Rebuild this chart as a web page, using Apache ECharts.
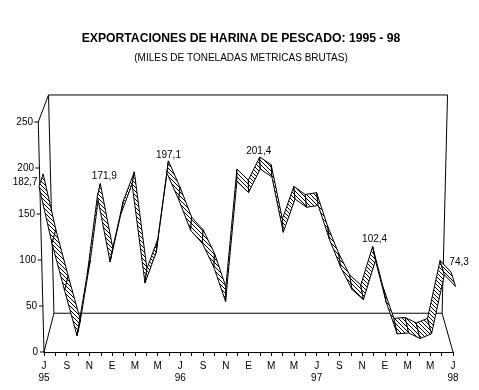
<!DOCTYPE html>
<html>
<head>
<meta charset="utf-8">
<title>Exportaciones de harina de pescado</title>
<script src="https://cdn.jsdelivr.net/npm/echarts@6/dist/echarts.min.js"></script>
<style>
  html, body { margin: 0; padding: 0; background: #fff; }
  #chart { width: 479px; height: 390px; }
</style>
</head>
<body>
<div id="chart"></div>
<script>
// datos, julio 95 a julio 98
const months = ['J', 'A', 'S', 'O', 'N', 'D', 'E', 'F', 'M', 'A', 'M', 'J',
                'J', 'A', 'S', 'O', 'N', 'D', 'E', 'F', 'M', 'A', 'M', 'J',
                'J', 'A', 'S', 'O', 'N', 'D', 'E', 'F', 'M', 'A', 'M', 'J', 'J']
const years = { 0: '95', 12: '96', 24: '97', 36: '98' }
const exportsValues = [182.7, 121, 70, 21, 88, 171.9, 101, 153, 185, 78, 111, 197.1,
                       168, 135, 121, 95, 58, 188, 176, 201.4, 193, 133, 169, 160,
                       162, 125, 95, 71, 60, 102.4, 57, 23, 24, 18, 23, 87, 74.3]
const yTicks = [0, 50, 100, 150, 200, 250]
const labelledMonths = [0, 5, 11, 19, 29, 36]
const labelTexts = ['182,7', '171,9', '197,1', '201,4', '102,4', '74,3']

// desplazamiento de cada rotulo respecto al pico del grafico
const labelOffsets = [[-18, 8], [4, -7], [0, -6], [-1, -6], [2, -7], [8, -10]]

const FONT = '"Liberation Sans", Arial, sans-serif'
const RIBBON_FRONT = -0.08
const RIBBON_BACK = 0.33

// perspectiva del grafico 3D: depth 0 es el plano frontal, 1 el fondo
function place(api, m, v, depth) {
  let p = api.coord([m, v])
  let lean = 1 + 0.028 * v / 250
  let x = 248.5 + (p[0] - 248.5) * lean
  let scale = 1 - depth * 0.051
  return [239 + (x - 239) * scale, -408 + (p[1] + 408) * scale]
}

function line(a, b) {
  return {
    type: 'line',
    shape: { x1: a[0], y1: a[1], x2: b[0], y2: b[1] },
    style: { stroke: '#000', lineWidth: 1, fill: null }
  }
}

// trama diagonal de la cinta
function hatchTile() {
  let tile = document.createElement('canvas')
  tile.width = 4
  tile.height = 4
  let ctx = tile.getContext('2d')
  ctx.fillStyle = '#fff'
  ctx.fillRect(0, 0, 4, 4)
  ctx.fillStyle = '#000'
  for (let i = 0; i < 4; i++) {
    ctx.fillRect(i, i, 1, 1)
  }
  return tile
}
const hatch = { image: hatchTile(), repeat: 'repeat' }

function renderFrame(params, api) {
  let last = months.length - 1
  let fl = place(api, 0, 0, 0)
  let bl = place(api, 0, 0, 1)
  let br = place(api, last, 0, 1)
  let fr = place(api, last, 0, 0)
  let tl = place(api, 0, 250, 1)
  let tr = place(api, last, 250, 1)
  let ft = place(api, 0, 250, 0)
  let children = [
    line(fl, ft), line(ft, tl), line(tl, tr), line(tr, br),
    line(tl, bl), line(bl, br), line(fl, bl), line(fr, br)
  ]
  // marcas del eje Y inclinado
  yTicks.forEach(v => {
    let p = place(api, 0, v, 0)
    children.push(line([p[0] - 4, p[1]], p))
  })
  return { type: 'group', children: children }
}

function renderRibbon(params, api) {
  let m = params.dataIndex
  let children = []
  if (m < exportsValues.length - 1) {
    let v = exportsValues[m]
    let next = exportsValues[m + 1]
    children.push({
      type: 'polygon',
      shape: {
        points: [
          place(api, m, v, RIBBON_FRONT),
          place(api, m + 1, next, RIBBON_FRONT),
          place(api, m + 1, next, RIBBON_BACK),
          place(api, m, v, RIBBON_BACK)
        ]
      },
      style: { fill: hatch, stroke: '#000', lineWidth: 1 }
    })
  }
  return { type: 'group', children: children }
}

function renderLabels(params, api) {
  let i = params.dataIndex
  let m = labelledMonths[i]
  let p = place(api, m, exportsValues[m], RIBBON_BACK)
  return {
    type: 'text',
    x: p[0] + labelOffsets[i][0],
    y: p[1] + labelOffsets[i][1],
    style: {
      text: labelTexts[i],
      fill: '#000',
      font: '10px ' + FONT,
      textAlign: 'center',
      textVerticalAlign: 'middle'
    }
  }
}

// padding por valor para que los rotulos sigan el eje inclinado
let yRich = {}
yTicks.forEach(v => {
  yRich['v' + v] = {
    color: '#000',
    fontSize: 10,
    fontFamily: FONT,
    padding: [0, v * 5 / 250, 0, 0]
  }
})

let myChart = echarts.init(document.getElementById('chart'))
let option = {
  animation: false,
  backgroundColor: '#fff',
  title: [
    {
      text: 'EXPORTACIONES DE HARINA DE PESCADO: 1995 - 98',
      left: 236,
      top: 28,
      textAlign: 'center',
      textStyle: { color: '#000', fontFamily: FONT, fontSize: 12.2, fontWeight: 'bold' }
    },
    {
      text: '(MILES DE TONELADAS METRICAS BRUTAS)',
      left: 236,
      top: 48,
      textAlign: 'center',
      textStyle: { color: '#000', fontFamily: FONT, fontSize: 10, fontWeight: 'normal' }
    }
  ],
  grid: { left: 44, right: 26, top: 122, bottom: 38 },
  xAxis: {
    type: 'category',
    data: months,
    boundaryGap: false,
    axisLine: { lineStyle: { color: '#000', width: 1 } },
    axisTick: { interval: 0, length: 4, lineStyle: { color: '#000' } },
    axisLabel: {
      interval: 1,
      color: '#000',
      fontFamily: FONT,
      fontSize: 10,
      lineHeight: 12,
      margin: 8,
      formatter: (value, index) => (years[index] ? value + '\n' + years[index] : value)
    },
    splitLine: { show: false }
  },
  yAxis: {
    type: 'value',
    min: 0,
    max: 250,
    interval: 50,
    axisLine: { show: false },
    axisTick: { show: false },
    splitLine: { show: false },
    axisLabel: {
      margin: 6,
      formatter: value => '{v' + value + '|' + value + '}',
      rich: yRich
    }
  },
  series: [
    {
      name: 'marco',
      type: 'custom',
      renderItem: renderFrame,
      data: [[0, 0]],
      silent: true,
      clip: false
    },
    {
      name: 'exportaciones',
      type: 'custom',
      renderItem: renderRibbon,
      data: exportsValues.map((v, m) => [m, v]),
      silent: true,
      clip: false
    },
    {
      name: 'rotulos',
      type: 'custom',
      renderItem: renderLabels,
      data: labelledMonths.map(m => [m, exportsValues[m]]),
      silent: true,
      clip: false
    }
  ]
}
myChart.setOption(option)
</script>
</body>
</html>
